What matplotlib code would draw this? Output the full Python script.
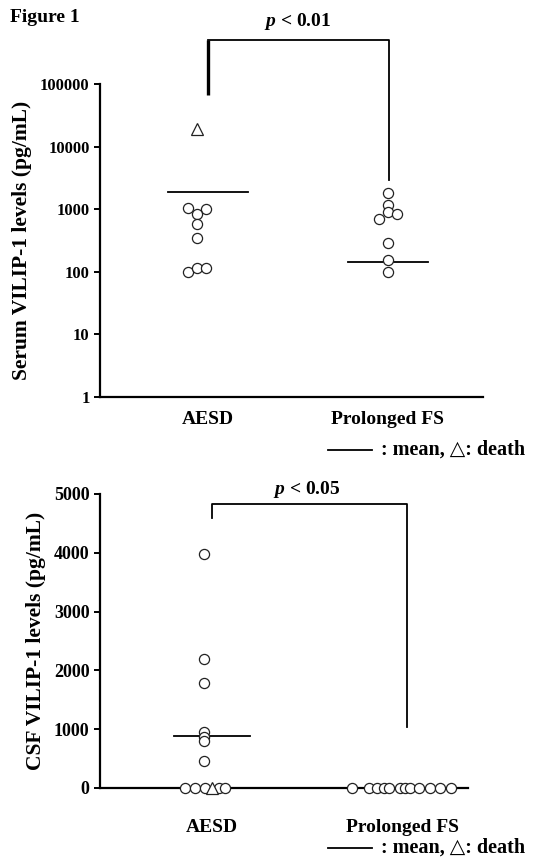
import matplotlib
matplotlib.use("Agg")
import matplotlib.pyplot as plt
from matplotlib.lines import Line2D

plt.rcParams['font.family'] = ['Liberation Serif', 'DejaVu Serif']
plt.rcParams['font.weight'] = 'bold'
plt.rcParams['mathtext.fontset'] = 'custom'
plt.rcParams['mathtext.it'] = 'Liberation Serif:italic:bold'
plt.rcParams['mathtext.rm'] = 'Liberation Serif:bold'

categories = ["AESD", "Prolonged FS"]

# serum VILIP-1 (pg/mL), log scale
serum_aesd = [1030, 1010, 840, 570, 350, 100, 116, 114]
serum_aesd_x = [-0.11, -0.01, -0.06, -0.06, -0.06, -0.11, -0.06, -0.01]
serum_aesd_death = [19000]
serum_aesd_death_x = [-0.06]
serum_pfs = [1840, 1170, 910, 700, 830, 285, 154, 100]
serum_pfs_x = [0, 0, 0, -0.05, 0.05, 0, 0, 0]
serum_means = [1900, 145]

# CSF VILIP-1 (pg/mL), linear scale
csf_aesd = [3974, 2194, 1791, 957, 872, 804, 459, 0, 0, 0, 0, 0]
csf_aesd_x = [-0.04, -0.04, -0.04, -0.04, -0.04, -0.04, -0.04,
              -0.144, -0.09, -0.037, 0.037, 0.069]
csf_aesd_death = [0]
csf_aesd_death_x = [-0.002]
csf_pfs = [0] * 12
csf_pfs_x = [-0.266, -0.176, -0.133, -0.096, -0.069, -0.011,
             0.016, 0.043, 0.09, 0.149, 0.202, 0.255]
csf_means = [889, 0]

W, H = 541, 858
fig = plt.figure(figsize=(W / 100, H / 100), dpi=100)


def style_axes(ax, ysize, xpad):
    for s in ['top', 'right']:
        ax.spines[s].set_visible(False)
    for s in ['left', 'bottom']:
        ax.spines[s].set_linewidth(1.6)
    ax.tick_params(axis='y', direction='out', length=4, width=1.4, labelsize=ysize)
    ax.tick_params(axis='x', length=0, labelsize=14, pad=xpad)
    ax.minorticks_off()


def points(ax, xs, ys, marker):
    ax.plot(xs, ys, linestyle='none', marker=marker, markersize=7.3 if marker == 'o' else 8,
            markerfacecolor='white', markeredgecolor='#222222', markeredgewidth=0.9,
            clip_on=False, zorder=5)


# ---- top panel: serum ----
ax1 = fig.add_axes([100 / W, 1 - 397 / H, 383 / W, 313 / H])
ax1.set_yscale('log')
ax1.set_ylim(1, 100000)
ax1.set_xlim(0.4, 2.53)
ax1.set_yticks([1, 10, 100, 1000, 10000, 100000])
ax1.set_yticklabels(['1', '10', '100', '1000', '10000', '100000'])
ax1.set_xticks([1, 2])
ax1.set_xticklabels(categories)
style_axes(ax1, 12, 10)
ax1.minorticks_off()

points(ax1, [1 + d for d in serum_aesd_x], serum_aesd, 'o')
points(ax1, [1 + d for d in serum_aesd_death_x], serum_aesd_death, '^')
points(ax1, [2 + d for d in serum_pfs_x], serum_pfs, 'o')
for i, m in enumerate(serum_means):
    ax1.plot([i + 1 - 0.222, i + 1 + 0.222], [m, m], color='black', lw=1.3, zorder=4)

# significance bracket
ax1.plot([1, 1], [66000, 500000], color='black', lw=2.4, clip_on=False, solid_capstyle='butt')
ax1.plot([1, 2.01, 2.01], [500000, 500000, 2900], color='black', lw=1.3, clip_on=False)
ax1.text(1.5, 1.0e6, r'$p$ < 0.01', ha='center', va='center', fontsize=14,
         fontweight='bold')
ax1.set_ylabel('Serum VILIP-1 levels (pg/mL)', fontsize=15.5, fontweight='bold', labelpad=6)

# ---- bottom panel: CSF ----
ax2 = fig.add_axes([100 / W, 1 - 788 / H, 368 / W, 294 / H])
ax2.set_ylim(0, 5000)
ax2.set_xlim(0.41, 2.347)
ax2.set_yticks([0, 1000, 2000, 3000, 4000, 5000])
ax2.set_xticks([1, 2])
ax2.set_xticklabels(categories)
style_axes(ax2, 13, 22)

points(ax2, [1 + d for d in csf_aesd_x], csf_aesd, 'o')
points(ax2, [1 + d for d in csf_aesd_death_x], csf_aesd_death, '^')
points(ax2, [2 + d for d in csf_pfs_x], csf_pfs, 'o')
for i, m in enumerate(csf_means):
    ax2.plot([i + 1 - 0.2, i + 1 + 0.2], [m, m], color='black', lw=1.3, zorder=4,
             clip_on=False)

ax2.plot([1, 1, 2.025, 2.025], [4590, 4830, 4830, 1040], color='black', lw=1.3,
         clip_on=False)
ax2.text(1.5, 5070, r'$p$ < 0.05', ha='center', va='center', fontsize=14,
         fontweight='bold')
ax2.set_ylabel('CSF VILIP-1 levels (pg/mL)', fontsize=15.5, fontweight='bold', labelpad=6)

# legends (mean line / death)
for yl in [450, 848]:
    fig.add_artist(Line2D([328 / W, 372 / W], [1 - yl / H, 1 - yl / H],
                          color='black', lw=1.3))
    fig.text(376 / W, 1 - yl / H, ' : mean, \u25b3: death', fontsize=14.5,
             fontweight='bold', va='center', ha='left')

fig.text(10 / W, 1 - 18 / H, 'Figure 1', fontsize=14, fontweight='bold',
         va='center', ha='left')

fig.savefig('out.png', dpi=100)
